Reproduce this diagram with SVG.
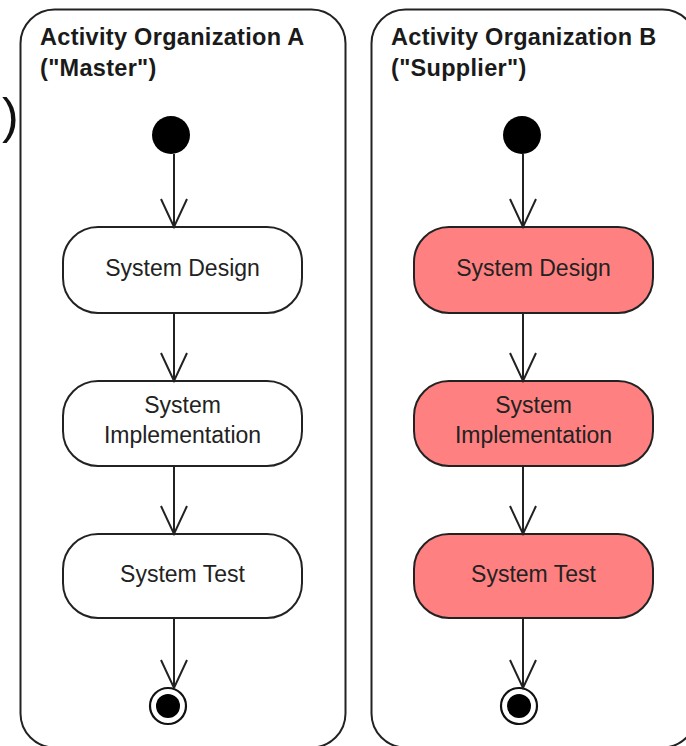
<svg xmlns="http://www.w3.org/2000/svg" width="686" height="746" viewBox="0 0 686 746">
<style>
.lane{fill:#fff;stroke:#222;stroke-width:2}
.title{font-family:"Liberation Sans",Arial,sans-serif;font-weight:bold;font-size:23.5px;letter-spacing:0.3px;fill:#1a1a1a}
.act{stroke:#222;stroke-width:2}
.white{fill:#fff}
.pink{fill:#FF8080}
.lbl{font-family:"Liberation Sans",Arial,sans-serif;font-size:23px;fill:#222;text-anchor:middle}
.flow{stroke:#222;stroke-width:2;fill:none;marker-end:url(#arr)}
</style>
<defs>
<marker id="arr" markerUnits="userSpaceOnUse" markerWidth="40" markerHeight="40" refX="0" refY="0" orient="auto" overflow="visible">
<path d="M-28,-13 L0,0 L-28,13" fill="none" stroke="#222" stroke-width="2"/>
</marker>
</defs>
<rect width="686" height="746" fill="#fff"/>
<text x="2" y="133" font-family="Liberation Sans,Arial,sans-serif" font-size="50" fill="#111">)</text>
<g id="laneA">
<rect class="lane" x="20.5" y="9.5" width="325" height="738" rx="34"/>
<text class="title" x="40" y="45">Activity Organization A</text>
<text class="title" x="40" y="76">("Master")</text>
</g>
<g id="laneB">
<rect class="lane" x="371.5" y="9.5" width="325" height="738" rx="34"/>
<text class="title" x="391" y="45">Activity Organization B</text>
<text class="title" x="391" y="76">("Supplier")</text>
</g>
<g id="startA"><circle cx="171" cy="135" r="19" fill="#000"/></g>
<g id="designA"><rect class="act white" x="63" y="227" width="239" height="86" rx="35"/><text class="lbl" x="182.5" y="276">System Design</text></g>
<g id="implA"><rect class="act white" x="63" y="381" width="239" height="85" rx="35"/><text class="lbl" x="182.5" y="413">System</text><text class="lbl" x="182.5" y="443">Implementation</text></g>
<g id="testA"><rect class="act white" x="63" y="534" width="239" height="84" rx="35"/><text class="lbl" x="182.5" y="582">System Test</text></g>
<g id="endA"><circle cx="168" cy="706" r="18" fill="#fff" stroke="#111" stroke-width="2.2"/><circle cx="168" cy="706" r="12" fill="#000"/></g>
<g id="startB"><circle cx="522" cy="135" r="19" fill="#000"/></g>
<g id="designB"><rect class="act pink" x="414" y="227" width="239" height="86" rx="35"/><text class="lbl" x="533.5" y="276">System Design</text></g>
<g id="implB"><rect class="act pink" x="414" y="381" width="239" height="85" rx="35"/><text class="lbl" x="533.5" y="413">System</text><text class="lbl" x="533.5" y="443">Implementation</text></g>
<g id="testB"><rect class="act pink" x="414" y="534" width="239" height="84" rx="35"/><text class="lbl" x="533.5" y="582">System Test</text></g>
<g id="endB"><circle cx="519" cy="706" r="18" fill="#fff" stroke="#111" stroke-width="2.2"/><circle cx="519" cy="706" r="12" fill="#000"/></g>
<g id="connectors">
<line class="flow" x1="174" y1="154" x2="174" y2="227"/>
<line class="flow" x1="174" y1="313" x2="174" y2="381"/>
<line class="flow" x1="174" y1="466" x2="174" y2="534"/>
<line class="flow" x1="174" y1="618" x2="174" y2="688"/>
<line class="flow" x1="523" y1="154" x2="523" y2="227"/>
<line class="flow" x1="523" y1="313" x2="523" y2="381"/>
<line class="flow" x1="523" y1="466" x2="523" y2="534"/>
<line class="flow" x1="523" y1="618" x2="523" y2="688"/>
</g>
</svg>
